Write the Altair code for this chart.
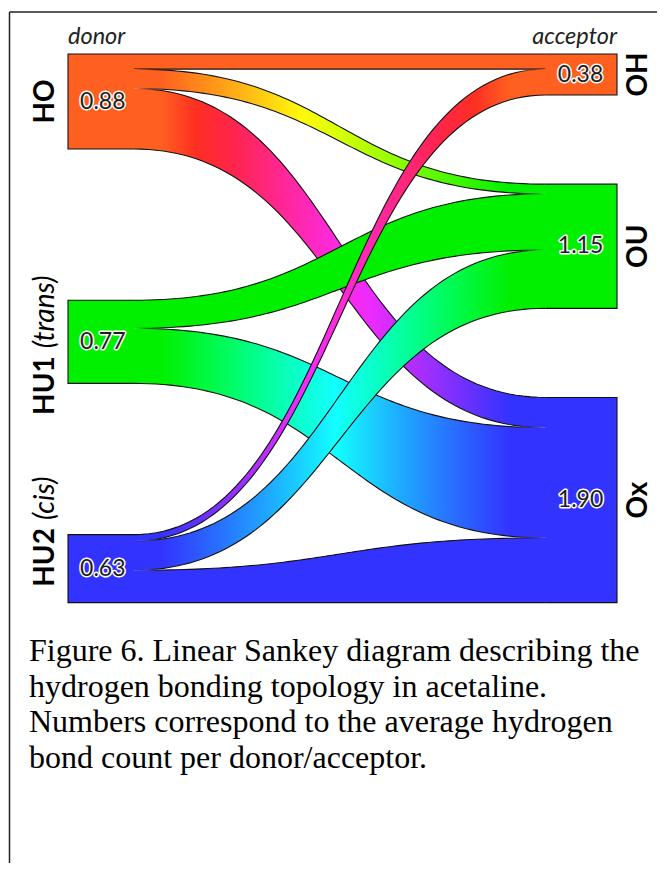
import colorsys
import altair as alt
import numpy as np
import pandas as pd

# ---------------- data ----------------
DONORS = ["HO", "HU1", "HU2"]
DONOR_VALUES = [0.88, 0.77, 0.63]
ACCEPTORS = ["OH", "OU", "Ox"]
ACCEPTOR_VALUES = [0.38, 1.15, 1.90]

FLOW_SOURCE = ["HO", "HO", "HO", "HU1", "HU1", "HU2", "HU2", "HU2"]
FLOW_TARGET = ["OH", "OU", "Ox", "OU", "Ox", "OH", "OU", "Ox"]
FLOW_DONOR_WIDTH = [0.14, 0.18, 0.56, 0.26, 0.51, 0.06, 0.27, 0.30]
FLOW_ACCEPTOR_WIDTH = [0.14, 0.09, 0.28, 0.52, 1.02, 0.24, 0.54, 0.60]

NODE_COLOR = {"HO": "#FF6020", "OH": "#FF6020",
              "HU1": "#00F000", "OU": "#00F000",
              "HU2": "#3333FF", "Ox": "#3333FF"}

DONOR_BOLD = ["HO", "HU1", "HU2"]
DONOR_ITALIC = ["", "(trans)", "(cis)"]
VALUE_TEXT_DONOR = ["0.88", "0.77", "0.63"]
VALUE_TEXT_ACCEPTOR = ["0.38", "1.15", "1.90"]

CAPTION = ["Figure 6. Linear Sankey diagram describing the",
           "hydrogen bonding topology in acetaline.",
           "Numbers correspond to the average hydrogen",
           "bond count per donor/acceptor."]

# ---------------- layout ----------------
W, H = 649, 855
PX_PER_UNIT = 108.0
TOP_PX = 46.0
LEFT_PX, SPAN_PX = 60.0, 549.0
COLUMN_SPAN = 5.08
XA, XB = 0.12, 0.87
EPS = 0.012

XS = alt.Scale(domain=[-LEFT_PX / SPAN_PX, (W - LEFT_PX) / SPAN_PX], nice=False, zero=False)
YS = alt.Scale(domain=[-TOP_PX / PX_PER_UNIT, (H - TOP_PX) / PX_PER_UNIT], nice=False,
               zero=False, reverse=True)


def X(f="x"):
    return alt.X(f"{f}:Q", scale=XS, axis=None)


def Y(f="y"):
    return alt.Y(f"{f}:Q", scale=YS, axis=None)


def stack(values):
    gap = (COLUMN_SPAN - sum(values)) / (len(values) - 1)
    tops, y = [], 0.0
    for v in values:
        tops.append(y)
        y += v + gap
    return tops


donor_tops = stack(DONOR_VALUES)
acc_tops = stack(ACCEPTOR_VALUES)


def hex2rgb(h):
    h = h.lstrip("#")
    return tuple(int(h[i:i + 2], 16) / 255 for i in (0, 2, 4))


def rgb2hex(r, g, b):
    return "#%02x%02x%02x" % tuple(int(round(max(0, min(1, c)) * 255)) for c in (r, g, b))


def mix_hsl(c1, c2, f):
    h1, l1, s1 = colorsys.rgb_to_hls(*hex2rgb(c1))
    h2, l2, s2 = colorsys.rgb_to_hls(*hex2rgb(c2))
    dh = h2 - h1
    if dh > 0.5:
        dh -= 1
    if dh < -0.5:
        dh += 1
    return rgb2hex(*colorsys.hls_to_rgb((h1 + dh * f) % 1, l1 + (l2 - l1) * f, s1 + (s2 - s1) * f))


def fill_for(c1, c2):
    if c1 == c2:
        return c1
    stops = [alt.GradientStop(offset=0, color=c1)]
    n = 10
    for k in range(n + 1):
        f = k / n
        stops.append(alt.GradientStop(offset=0.08 + 0.82 * f, color=mix_hsl(c1, c2, f)))
    stops.append(alt.GradientStop(offset=1, color=c2))
    return alt.Gradient(gradient="linear", stops=stops, x1=0, x2=1, y1=0, y2=0)


CLEAR = "rgba(17,17,17,0)"
INK = "#111111"


def stroke_for(fade_start, fade_end, flat):
    if flat or not (fade_start or fade_end):
        return INK
    stops = [alt.GradientStop(offset=0, color=CLEAR if fade_start else INK),
             alt.GradientStop(offset=0.07, color=INK),
             alt.GradientStop(offset=0.93, color=INK),
             alt.GradientStop(offset=1, color=CLEAR if fade_end else INK)]
    return alt.Gradient(gradient="linear", stops=stops, x1=0, x2=1, y1=0, y2=0)


T = np.linspace(0, 1, 81)
XT = XA + (XB - XA) * (1.5 * T - 1.5 * T ** 2 + T ** 3)
ST = 3 * T ** 2 - 2 * T ** 3

layers = []

src_cursor = dict(zip(DONORS, donor_tops))
tgt_cursor = dict(zip(ACCEPTORS, acc_tops))
src_first = {d: FLOW_SOURCE.index(d) for d in DONORS}
src_last = {d: len(FLOW_SOURCE) - 1 - FLOW_SOURCE[::-1].index(d) for d in DONORS}
tgt_first = {a: FLOW_TARGET.index(a) for a in ACCEPTORS}
tgt_last = {a: len(FLOW_TARGET) - 1 - FLOW_TARGET[::-1].index(a) for a in ACCEPTORS}

for i, (s, t) in enumerate(zip(FLOW_SOURCE, FLOW_TARGET)):
    s0 = src_cursor[s]
    s1 = s0 + FLOW_DONOR_WIDTH[i]
    src_cursor[s] = s1
    t0 = tgt_cursor[t]
    t1 = t0 + FLOW_ACCEPTOR_WIDTH[i]
    tgt_cursor[t] = t1

    top = s0 + (t0 - s0) * ST
    bot = s1 + (t1 - s1) * ST
    area_df = pd.DataFrame({
        "x": np.concatenate([[XA - EPS], XT, [XB + EPS]]),
        "top": np.concatenate([[s0], top, [t0]]),
        "bot": np.concatenate([[s1], bot, [t1]]),
    })
    layers.append(
        alt.Chart(area_df).mark_area(color=fill_for(NODE_COLOR[s], NODE_COLOR[t]), strokeWidth=0)
        .encode(x=X(), y=Y("top"), y2=alt.Y2("bot"))
    )
    fs = i != src_first[s]
    fe = i != tgt_first[t]
    layers.append(
        alt.Chart(pd.DataFrame({"x": XT, "y": top})).mark_line(
            stroke=stroke_for(fs, fe, abs(s0 - t0) < 1e-9), strokeWidth=1.1)
        .encode(x=X(), y=Y())
    )
    fs = i != src_last[s]
    fe = i != tgt_last[t]
    layers.append(
        alt.Chart(pd.DataFrame({"x": XT, "y": bot})).mark_line(
            stroke=stroke_for(fs, fe, abs(s1 - t1) < 1e-9), strokeWidth=1.1)
        .encode(x=X(), y=Y())
    )

# nodes
node_rows, outline_rows = [], []
for n, top, v in zip(DONORS, donor_tops, DONOR_VALUES):
    node_rows.append({"node": n, "x0": 0.0, "x1": XA, "top": top, "bot": top + v, "color": NODE_COLOR[n]})
    for k, (xx, yy) in enumerate([(XA, top), (0, top), (0, top + v), (XA, top + v)]):
        outline_rows.append({"node": n, "idx": k, "x": xx, "y": yy})
for n, top, v in zip(ACCEPTORS, acc_tops, ACCEPTOR_VALUES):
    node_rows.append({"node": n, "x0": XB, "x1": 1.0, "top": top, "bot": top + v, "color": NODE_COLOR[n]})
    for k, (xx, yy) in enumerate([(XB, top), (1, top), (1, top + v), (XB, top + v)]):
        outline_rows.append({"node": n, "idx": k, "x": xx, "y": yy})
nodes_df = pd.DataFrame(node_rows)
layers.append(
    alt.Chart(nodes_df).mark_rect(strokeWidth=0)
    .encode(x=X("x0"), x2=alt.X2("x1"), y=Y("top"), y2=alt.Y2("bot"),
            color=alt.Color("color:N", scale=None))
)
layers.append(
    alt.Chart(pd.DataFrame(outline_rows)).mark_line(color=INK, strokeWidth=1.1)
    .encode(x=X(), y=Y(), detail="node:N", order="idx:Q")
)

# value labels with halo
dl = pd.DataFrame({"x": 0.022, "y": [t + v / 2 for t, v in zip(donor_tops, DONOR_VALUES)],
                   "text": VALUE_TEXT_DONOR})
al = pd.DataFrame({"x": 0.975, "y": [t + v / 2 for t, v in zip(acc_tops, ACCEPTOR_VALUES)],
                   "text": VALUE_TEXT_ACCEPTOR})
for df, align in ((dl, "left"), (al, "right")):
    base = alt.Chart(df).encode(x=X(), y=Y(), text="text:N")
    layers.append(base.mark_text(align=align, baseline="middle", font="Lato", fontSize=23,
                                 color="white", stroke="white", strokeWidth=3, strokeJoin="round"))
    layers.append(base.mark_text(align=align, baseline="middle", font="Lato", fontSize=23,
                                 color="#1e1e1e"))

# node name labels (rotated)
NAME_FONT = 28
donor_centers = [t + v / 2 for t, v in zip(donor_tops, DONOR_VALUES)]
acc_centers = [t + v / 2 for t, v in zip(acc_tops, ACCEPTOR_VALUES)]
BOLD_OFFSET_PX = [0.0, 14.5, -40.5]
ITALIC_OFFSET_PX = [0.0, 6.5, -48.5]

layers.append(
    alt.Chart(pd.DataFrame({"x": [-0.040], "y": [donor_centers[0]], "text": [DONOR_BOLD[0]]}))
    .mark_text(angle=270, align="center", baseline="middle", font="Lato", fontWeight="bold",
               fontSize=NAME_FONT, color="black")
    .encode(x=X(), y=Y(), text="text:N")
)
layers.append(
    alt.Chart(pd.DataFrame({"x": -0.040,
                            "y": [donor_centers[k] + BOLD_OFFSET_PX[k] / PX_PER_UNIT for k in (1, 2)],
                            "text": [DONOR_BOLD[1], DONOR_BOLD[2]]}))
    .mark_text(angle=270, align="right", baseline="middle", font="Lato", fontWeight="bold",
               fontSize=NAME_FONT, color="black")
    .encode(x=X(), y=Y(), text="text:N")
)
layers.append(
    alt.Chart(pd.DataFrame({"x": -0.040,
                            "y": [donor_centers[k] + ITALIC_OFFSET_PX[k] / PX_PER_UNIT for k in (1, 2)],
                            "text": [DONOR_ITALIC[1], DONOR_ITALIC[2]]}))
    .mark_text(angle=270, align="left", baseline="middle", font="Lato", fontStyle="italic",
               fontSize=NAME_FONT, color="black")
    .encode(x=X(), y=Y(), text="text:N")
)
layers.append(
    alt.Chart(pd.DataFrame({"x": 1.040, "y": acc_centers, "text": ACCEPTORS}))
    .mark_text(angle=270, align="center", baseline="middle", font="Lato", fontWeight="bold",
               fontSize=NAME_FONT, color="black")
    .encode(x=X(), y=Y(), text="text:N")
)

# column headers
layers.append(
    alt.Chart(pd.DataFrame({"x": [0.0], "y": [0.0], "text": ["donor"]}))
    .mark_text(align="left", baseline="alphabetic", dy=-10, font="Lato", fontStyle="italic",
               fontSize=23.5, color="#222222")
    .encode(x=X(), y=Y(), text="text:N")
)
layers.append(
    alt.Chart(pd.DataFrame({"x": [1.0], "y": [0.0], "text": ["acceptor"]}))
    .mark_text(align="right", baseline="alphabetic", dy=-10, font="Lato", fontStyle="italic",
               fontSize=23.5, color="#222222")
    .encode(x=X(), y=Y(), text="text:N")
)

# frame lines and caption
one = pd.DataFrame({"a": [0]})
layers.append(alt.Chart(one).mark_rule(color="#222222", strokeWidth=1.5)
              .encode(x=alt.value(1.5), y=alt.value(4), y2=alt.value(H)))
layers.append(alt.Chart(one).mark_rule(color="#222222", strokeWidth=1.5)
              .encode(x=alt.value(1.5), x2=alt.value(W), y=alt.value(4)))
layers.append(alt.Chart(one).mark_text(text=CAPTION, align="left", baseline="alphabetic",
                                       font="Liberation Serif", fontSize=32, lineHeight=35.5,
                                       color="black")
              .encode(x=alt.value(21), y=alt.value(653)))

chart = alt.layer(*layers).properties(
    width=W, height=H, padding=0, autosize=alt.AutoSizeParams(type="none")
).configure_view(strokeWidth=0)

chart.save("out.html", embed_options={"renderer": "svg", "actions": False})
